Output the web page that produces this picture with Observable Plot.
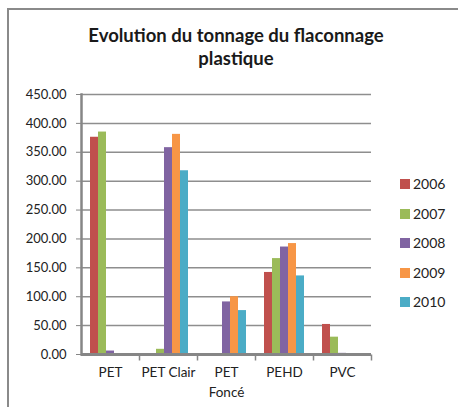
<!DOCTYPE html>
<html>
<head>
<meta charset="utf-8">
<script src="https://cdn.jsdelivr.net/npm/d3@7"></script>
<script src="https://cdn.jsdelivr.net/npm/@observablehq/plot@0.6"></script>
<style>
  html, body { margin: 0; padding: 0; background: #fff; }
  #wrap { position: relative; width: 458px; height: 407px; overflow: hidden; font-family: Lato, "Noto Sans", sans-serif; color: #222; }
  #border { position: absolute; left: 7px; top: 8px; right: -10px; bottom: -10px; border-top: 2px solid #8a8a8a; border-left: 2px solid #8a8a8a; }
  #title { position: relative; height: 80px; box-sizing: border-box; padding-top: 24px; padding-left: 14px; text-align: center; font-weight: bold; font-size: 18.5px; line-height: 23px; color: #1a1a1a; }
  #chart { position: relative; }
  #chart svg text { font-family: Lato, "Noto Sans", sans-serif; }
  #legend { position: absolute; left: 400px; top: 175px; font-size: 14px; }
  .item { height: 29.5px; display: flex; align-items: flex-start; }
  .sw { width: 10px; height: 10px; margin-top: 4px; margin-right: 3px; }
</style>
</head>
<body>
<div id="wrap">
  <div id="border"></div>
  <div id="title">Evolution du tonnage du flaconnage<br>plastique</div>
  <div id="chart"></div>
  <div id="legend"></div>
</div>
<script>
const categories = ["PET", "PET Clair", "PET Foncé", "PEHD", "PVC"];
const categoryLabels = ["PET", "PET Clair", "PET\nFoncé", "PEHD", "PVC"];
const years = ["2006", "2007", "2008", "2009", "2010"];
const v2006 = [376, 0, 0, 142, 52];
const v2007 = [385, 9, 0, 166, 30];
const v2008 = [6, 358, 91, 186, 2];
const v2009 = [0, 381, 100, 192, 0];
const v2010 = [0, 318, 76, 136, 0];
const yTicks = [0, 50, 100, 150, 200, 250, 300, 350, 400, 450];
const colors = ["#C0504D", "#9BBB59", "#8064A2", "#F79646", "#4BACC6"];

const series = [v2006, v2007, v2008, v2009, v2010];
const data = [];
years.forEach((yr, i) => categories.forEach((c, j) => data.push({cat: c, year: yr, value: series[i][j]})));

const tickSymbol = { draw(ctx) { ctx.moveTo(0, 0); ctx.lineTo(0, 6); } };
const axisColor = "#868686";

const chart = Plot.plot({
  width: 458,
  height: 327,
  marginTop: 14,
  marginBottom: 53,
  marginLeft: 80,
  marginRight: 87,
  style: { fontFamily: "Lato, 'Noto Sans', sans-serif", color: "#222", background: "transparent" },
  fx: { domain: categories, padding: 0, label: null },
  x: { domain: years, paddingInner: 0, paddingOuter: 0.73, axis: null },
  y: { domain: [0, 450], label: null },
  color: { domain: years, range: colors },
  marks: [
    Plot.gridY(yTicks.slice(1), { stroke: "#8e8e8e", strokeOpacity: 1, strokeWidth: 1.5 }),
    Plot.barY(data, { fx: "cat", x: "year", y: "value", fill: "year" }),
    Plot.ruleY([0], { stroke: axisColor, strokeWidth: 3 }),
    Plot.frame({ anchor: "left", facetAnchor: "left", stroke: axisColor, strokeWidth: 2.5 }),
    Plot.dot([0], { frameAnchor: "bottom-right", symbol: tickSymbol, stroke: axisColor, strokeWidth: 1.5 }),
    Plot.axisY(yTicks, { tickSize: 5, tickPadding: 10, tickFormat: d3.format(".2f"), fontSize: 13, stroke: axisColor, strokeOpacity: 1, color: "#222", label: null }),
    Plot.axisFx({ anchor: "bottom", tickSize: 0, tickPadding: 9, fontSize: 13.5, lineHeight: 1.45, tickFormat: d => categoryLabels[categories.indexOf(d)], label: null })
  ]
});
document.getElementById("chart").appendChild(chart);

const legend = document.getElementById("legend");
years.forEach((yr, i) => {
  const item = document.createElement("div");
  item.className = "item";
  item.innerHTML = `<div class="sw" style="background:${colors[i]}"></div><span>${yr}</span>`;
  legend.appendChild(item);
});
</script>
</body>
</html>
